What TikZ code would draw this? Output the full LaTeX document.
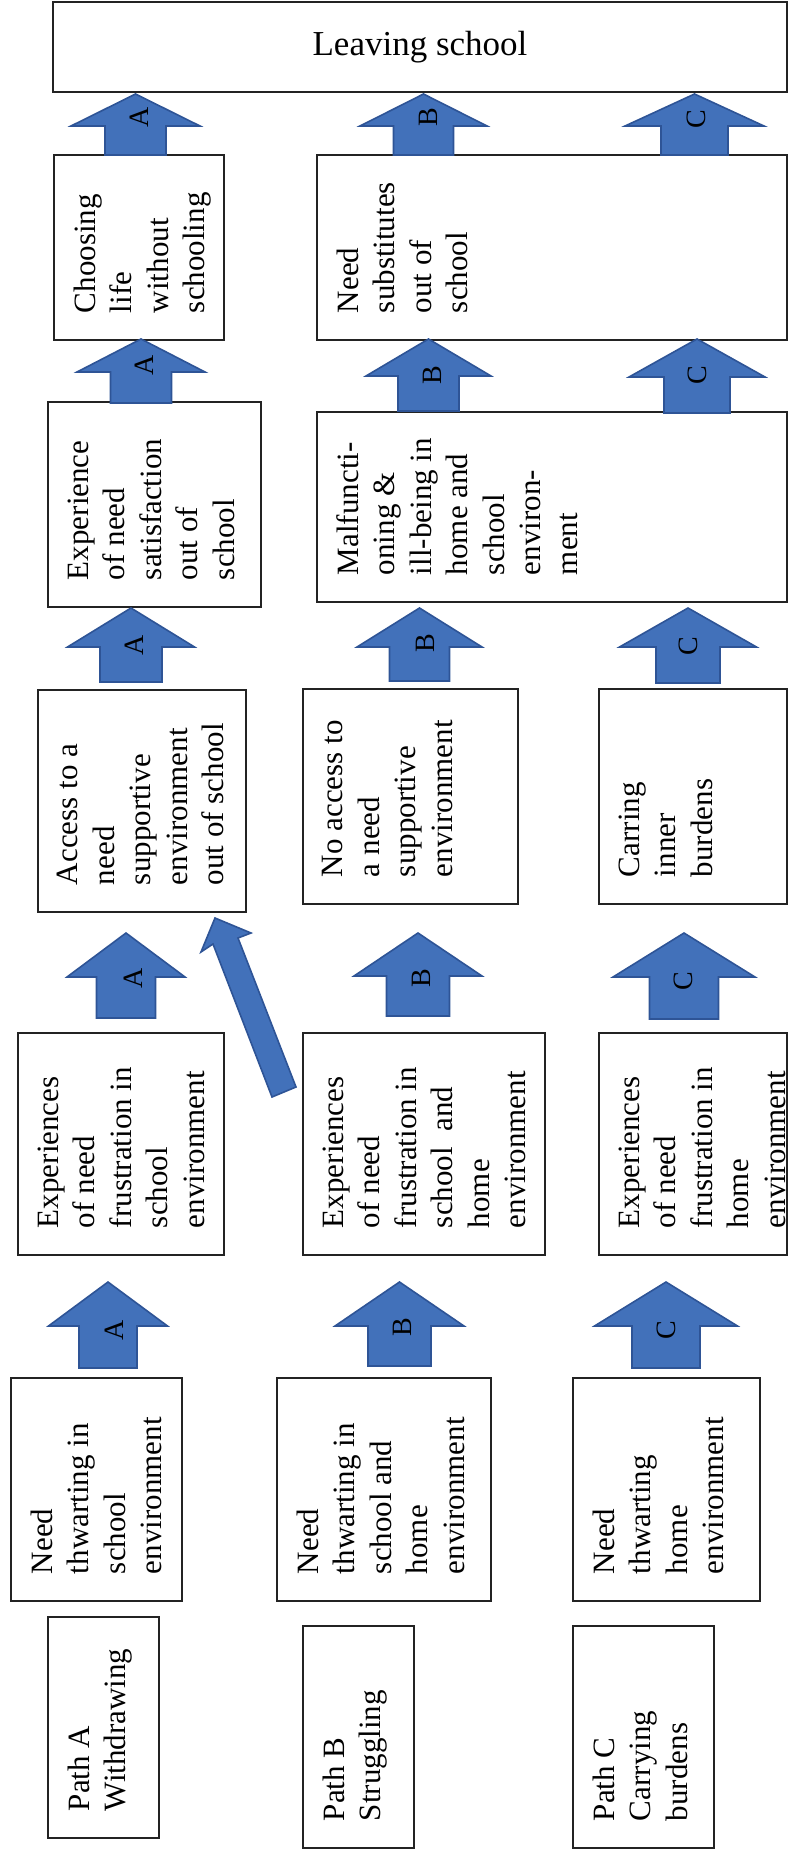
\documentclass[tikz,border=0pt]{standalone}
\usepackage{fontspec}
\setmainfont{Liberation Serif}
\usetikzlibrary{fit}

\definecolor{arrfill}{RGB}{66,113,186}
\definecolor{arrline}{RGB}{46,84,150}
\definecolor{boxline}{RGB}{35,35,35}

\tikzset{
  box/.style={draw=boxline, line width=1.4pt, inner sep=0pt},
  txt/.style={rotate=90, anchor=north west, align=left, inner sep=0pt,
              font=\fontsize{31}{36.5}\selectfont},
  lett/.style={rotate=90, inner sep=0pt, font=\fontsize{28}{28}\selectfont},
  barrow/.style={fill=arrfill, draw=arrline, line width=1.6pt, line join=miter},
}

% rectangular box spanning (x1,y1)-(x2,y2)
\newcommand\flowbox[5]{%
  \coordinate (#1-a) at (#2,#3);
  \coordinate (#1-b) at (#4,#5);
  \node[box, fit=(#1-a)(#1-b)] (#1) {};}
% rotated text set from the lower left corner of a box
\newcommand\boxtext[2]{%
  \node[txt] (#1-t) at ([xshift=20pt,yshift=27.5pt]#1.south west) {#2};}
% upward block arrow: tip x, tip y, head base y, bottom y, head half width, shaft half width
\newcommand\blockarrow[6]{%
  \draw[barrow] (#1,#2) -- ({#1+#5},#3) -- ({#1+#6},#3) -- ({#1+#6},#4)
    -- ({#1-#6},#4) -- ({#1-#6},#3) -- ({#1-#5},#3) -- cycle;}

\begin{document}
\begin{tikzpicture}[x=1pt,y=-1pt]
\useasboundingbox (0,0) rectangle (800,1854);

% ---------- boxes ----------
\flowbox{leave}{53}{2}{787}{92}
\node[inner sep=0pt, font=\fontsize{35}{35}\selectfont] (leave-t) at (leave.center) {Leaving school};

\flowbox{chooseA}{54}{155}{224}{340}
\boxtext{chooseA}{Choosing\\life\\without\\schooling}
\flowbox{substBC}{317}{155}{787}{340}
\boxtext{substBC}{Need\\substitutes\\out of\\school}

\flowbox{satA}{48}{402}{261}{607}
\boxtext{satA}{Experience\\of need\\satisfaction\\out of\\school}
\flowbox{malfBC}{317}{412}{787}{602}
\boxtext{malfBC}{Malfuncti-\\oning \&\\ill-being in\\home and\\school\\environ-\\ment}

\flowbox{accA}{38}{690}{246}{912}
\boxtext{accA}{Access to a\\need\\supportive\\environment\\out of school}
\flowbox{noaccB}{303}{689}{518}{904}
\boxtext{noaccB}{No access to\\a need\\supportive\\environment}
\flowbox{carrC}{599}{689}{787}{904}
\boxtext{carrC}{Carring\\inner\\burdens}

\flowbox{frA}{18}{1033}{224}{1255}
\boxtext{frA}{Experiences\\of need\\frustration in\\school\\environment}
\flowbox{frB}{303}{1033}{545}{1255}
\boxtext{frB}{Experiences\\of need\\frustration in\\school~ and\\home\\environment}
\flowbox{frC}{599}{1033}{787}{1255}
\boxtext{frC}{Experiences\\of need\\frustration in\\home\\environment}

\flowbox{thA}{11}{1378}{182}{1601}
\boxtext{thA}{Need\\thwarting in\\school\\environment}
\flowbox{thB}{277}{1378}{491}{1601}
\boxtext{thB}{Need\\thwarting in\\school and\\home\\environment}
\flowbox{thC}{573}{1378}{760}{1601}
\boxtext{thC}{Need\\thwarting\\home\\environment}

\flowbox{pathA}{48}{1617}{159}{1838}
\boxtext{pathA}{Path A\\Withdrawing}
\flowbox{pathB}{303}{1626}{414}{1848}
\boxtext{pathB}{Path B\\Struggling}
\flowbox{pathC}{573}{1626}{714}{1848}
\boxtext{pathC}{Path C\\Carrying\\burdens}

% ---------- block arrows ----------
% into "Leaving school"
\blockarrow{135.5}{94}{126}{155}{64.5}{30.5}
\blockarrow{423.5}{94}{126}{155}{63.5}{30}
\blockarrow{694.5}{94}{126}{155}{69.5}{33.5}
\node[lett] (l1a) at (139,117) {A};
\node[lett] (l1b) at (428,117) {B};
\node[lett] (l1c) at (696,119) {C};

% into the second row
\blockarrow{141}{339}{372}{403}{64}{30.5}
\blockarrow{428.5}{339}{376}{411}{62.5}{30.5}
\blockarrow{697}{339}{377}{413}{68}{33}
\node[lett] (l2a) at (144,365) {A};
\node[lett] (l2b) at (432,375) {B};
\node[lett] (l2c) at (697,375) {C};

% into the third row
\blockarrow{131}{608}{647}{682}{63.5}{31}
\blockarrow{419.5}{608}{647}{681}{62.5}{30}
\blockarrow{688}{608}{647}{683}{68.5}{32}
\node[lett] (l3a) at (134,645) {A};
\node[lett] (l3b) at (425,643) {B};
\node[lett] (l3c) at (688,646) {C};

% into the fourth row
\blockarrow{126}{933}{977}{1018}{59}{29.5}
\blockarrow{418}{933}{976}{1016}{64}{31.5}
\blockarrow{684}{933}{977}{1019}{71}{34.5}
\node[lett] (l4a) at (133,978) {A};
\node[lett] (l4b) at (421,978) {B};
\node[lett] (l4c) at (683,981) {C};

% slanted arrow from path B to the supportive environment
\draw[barrow] (215,918) -- (251,933) -- (238,938) -- (296,1087)
  -- (272,1097) -- (213,944) -- (201,952) -- cycle;

% into the fifth row
\blockarrow{108}{1282}{1326}{1368}{59.5}{29}
\blockarrow{399.5}{1282}{1326}{1366}{64.5}{31.5}
\blockarrow{666}{1282}{1326}{1368}{71.5}{34}
\node[lett] (l5a) at (114,1330) {A};
\node[lett] (l5b) at (402,1327) {B};
\node[lett] (l5c) at (666,1330) {C};
\end{tikzpicture}
\end{document}
